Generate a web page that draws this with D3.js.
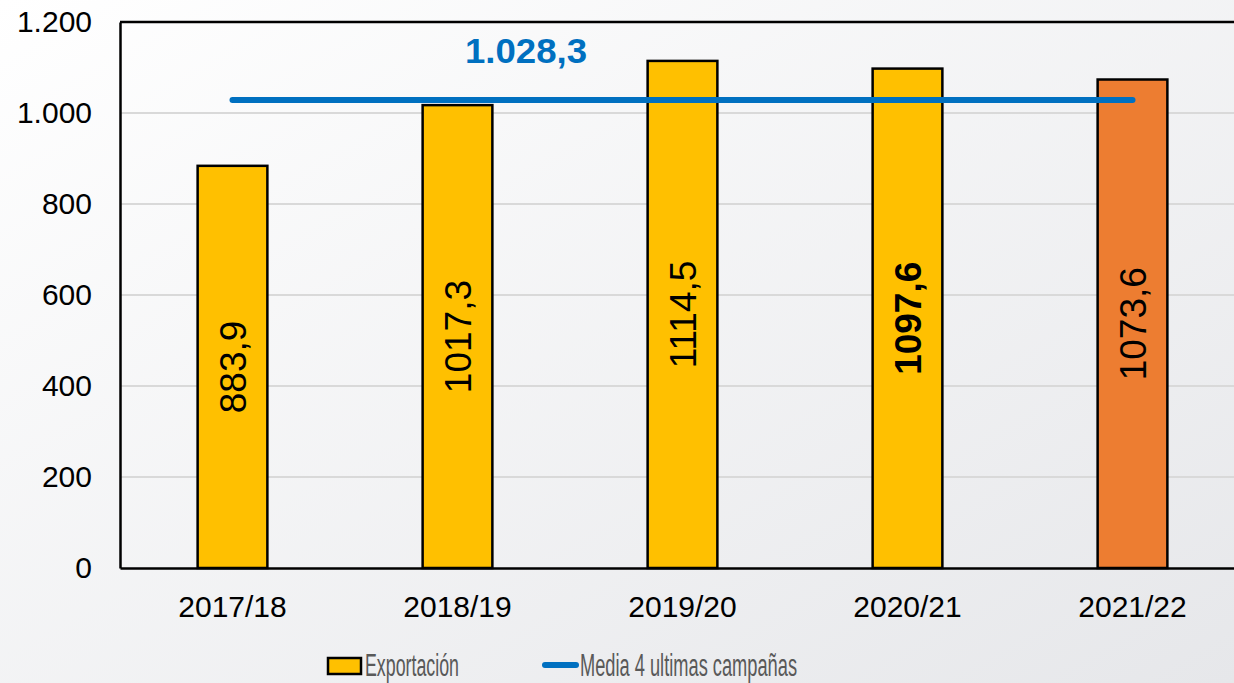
<!DOCTYPE html>
<html>
<head>
<meta charset="utf-8">
<script src="https://cdn.jsdelivr.net/npm/d3@7"></script>
<style>
  html, body { margin: 0; padding: 0; overflow: hidden; }
  svg { display: block; font-family: "Liberation Sans", Arial, sans-serif; }
</style>
</head>
<body>
<svg id="chart" width="1234" height="683"></svg>
<script>
// data
const campaigns = ["2017/18", "2018/19", "2019/20", "2020/21", "2021/22"];
const exportValues = [883.9, 1017.3, 1114.5, 1097.6, 1073.6];
const barColors = ["#FFC000", "#FFC000", "#FFC000", "#FFC000", "#ED7D31"];
const boldLabel = [false, false, false, true, false];
const meanValue = 1028.3;
const yTicks = [0, 200, 400, 600, 800, 1000, 1200];
const legendLabels = ["Exportación", "Media 4 ultimas campañas"];

const svg = d3.select("#chart");
const margin = { top: 22, left: 120, bottom: 115 };
const height = +svg.attr("height") - margin.top - margin.bottom;
const plotWidth = 1125; // runs past the right edge like the original

const es = d3.formatLocale({ decimal: ",", thousands: ".", grouping: [3], currency: ["", "€"] });
const fmtTick = es.format(",.0f");
const fmtVal = es.format(".1f");

// background gradient
const defs = svg.append("defs");
const grad = defs.append("linearGradient").attr("id", "bg")
  .attr("x1", "0").attr("y1", "0").attr("x2", "1").attr("y2", "1");
grad.append("stop").attr("offset", "0%").attr("stop-color", "#ffffff");
grad.append("stop").attr("offset", "100%").attr("stop-color", "#e6e7ea");
svg.append("rect").attr("width", 1234).attr("height", 683).attr("fill", "url(#bg)");

const chart = svg.append("g").attr("transform", `translate(${margin.left},${margin.top})`);

const x = d3.scaleBand().domain(campaigns).range([0, plotWidth]).paddingInner(0.69).paddingOuter(0.345);
const y = d3.scaleLinear().domain([0, 1200]).range([height, 0]);

// gridlines
chart.append("g")
  .selectAll("line")
  .data(yTicks.filter(d => d > 0 && d < 1200))
  .join("line")
  .attr("x1", 0).attr("x2", plotWidth)
  .attr("y1", d => y(d)).attr("y2", d => y(d))
  .attr("stroke", "#d9d9d9").attr("stroke-width", 2);

// plot frame (top)
chart.append("line").attr("x1", 0).attr("x2", plotWidth).attr("y1", 0).attr("y2", 0)
  .attr("stroke", "#000").attr("stroke-width", 2.5);

// bars
chart.append("g")
  .selectAll("rect")
  .data(exportValues)
  .join("rect")
  .attr("x", (d, i) => x(campaigns[i]))
  .attr("y", d => y(d))
  .attr("width", x.bandwidth())
  .attr("height", d => y(0) - y(d))
  .attr("fill", (d, i) => barColors[i])
  .attr("stroke", "#000")
  .attr("stroke-width", 2.5);

// bar value labels, rotated
chart.append("g")
  .selectAll("text")
  .data(exportValues)
  .join("text")
  .attr("transform", (d, i) => {
    const cx = x(campaigns[i]) + x.bandwidth() / 2;
    const cy = (y(d) + y(0)) / 2;
    return `translate(${cx},${cy}) rotate(-90)`;
  })
  .attr("text-anchor", "middle")
  .attr("dy", "0.36em")
  .style("font-size", "37px")
  .style("font-weight", (d, i) => boldLabel[i] ? "bold" : "normal")
  .attr("fill", "#000")
  .text(d => fmtVal(d));

// mean line
const meanLine = d3.line()
  .x(d => x(d) + x.bandwidth() / 2)
  .y(() => y(meanValue));
chart.append("path")
  .attr("d", meanLine([campaigns[0], campaigns[campaigns.length - 1]]))
  .attr("stroke", "#0070C0")
  .attr("stroke-width", 6)
  .attr("stroke-linecap", "round")
  .attr("fill", "none");

chart.append("text")
  .attr("x", (x(campaigns[1]) + x(campaigns[2])) / 2 + x.bandwidth() / 2 - 44)
  .attr("y", y(meanValue) - 37)
  .attr("text-anchor", "middle")
  .style("font-size", "35px")
  .style("font-weight", "bold")
  .attr("fill", "#0070C0")
  .attr("textLength", 122)
  .attr("lengthAdjust", "spacingAndGlyphs")
  .text(fmtTick(Math.floor(meanValue)) + "," + fmtVal(meanValue).split(",")[1]);

// axes
const yAxis = chart.append("g")
  .call(d3.axisLeft(y).tickValues(yTicks).tickFormat(fmtTick).tickSize(0).tickPadding(28));
yAxis.select(".domain").attr("stroke", "#000").attr("stroke-width", 2.5);
yAxis.selectAll("text").style("font-size", "30px").attr("fill", "#000")
  .style("font-family", "'Liberation Sans', Arial, sans-serif");

const xAxis = chart.append("g")
  .attr("transform", `translate(0,${height})`)
  .call(d3.axisBottom(x).tickSize(0).tickPadding(28));
xAxis.select(".domain").attr("stroke", "#000").attr("stroke-width", 2.5);
xAxis.selectAll("text").style("font-size", "30px").attr("fill", "#000")
  .style("font-family", "'Liberation Sans', Arial, sans-serif");

// legend
const legend = svg.append("g");
legend.append("rect")
  .attr("x", 328).attr("y", 658).attr("width", 33).attr("height", 16)
  .attr("fill", "#FFC000").attr("stroke", "#000").attr("stroke-width", 2.5);
legend.append("text")
  .attr("x", 365).attr("y", 676)
  .style("font-size", "31px").attr("fill", "#595959")
  .attr("textLength", 94).attr("lengthAdjust", "spacingAndGlyphs")
  .text(legendLabels[0]);
legend.append("line")
  .attr("x1", 545).attr("x2", 576).attr("y1", 665).attr("y2", 665)
  .attr("stroke", "#0070C0").attr("stroke-width", 6).attr("stroke-linecap", "round");
legend.append("text")
  .attr("x", 580).attr("y", 676)
  .style("font-size", "31px").attr("fill", "#595959")
  .attr("textLength", 217).attr("lengthAdjust", "spacingAndGlyphs")
  .text(legendLabels[1]);
</script>
</body>
</html>
